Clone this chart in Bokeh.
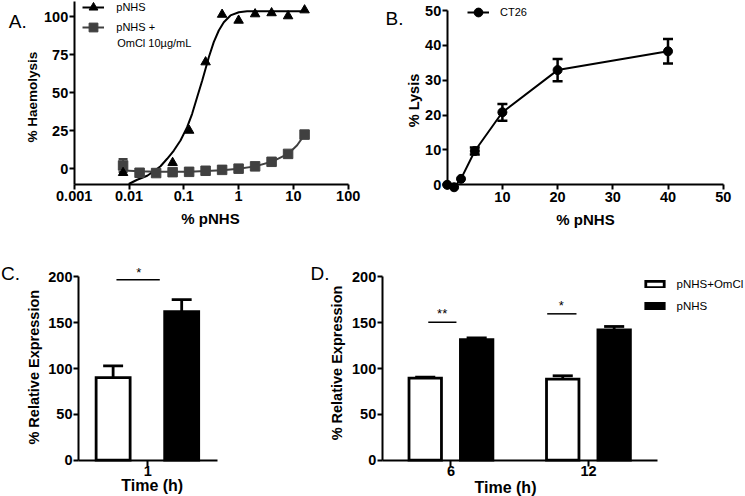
import math
from bokeh.plotting import figure
from bokeh.models import (Range1d, FixedTicker, Legend, LegendItem, Label, Whisker,
                          TeeHead, ColumnDataSource)
from bokeh.layouts import column, row
from bokeh.embed import file_html
from bokeh.resources import INLINE
from bokeh.core.properties import value

# ---------------- data ----------------
# Panel A
A_XTICKS = [0.001, 0.01, 0.1, 1, 10, 100]
A_XTICK_LABELS = ["0.001", "0.01", "0.1", "1", "10", "100"]
A_YTICKS = [0, 25, 50, 75, 100]
A_PNHS_X = [0.0078, 0.0625, 0.125, 0.25, 0.5, 1, 2, 4, 8, 16]
A_PNHS_Y = [-2.6, 4.0, 25.2, 70.2, 101.5, 97.6, 101.8, 102.5, 100.5, 104.4]
A_OMCI_X = [0.0078, 0.0156, 0.03125, 0.0625, 0.125, 0.25, 0.5, 1, 2, 4, 8, 16]
A_OMCI_Y = [2.2, -2.6, -2.8, -2.2, -2.0, -1.3, -0.7, 0.1, 1.6, 4.6, 9.8, 22.5]
A_OMCI_ERR = [4.3, 0, 0, 0, 0, 0, 0, 0, 0, 0, 0, 0]
A_FIT_PNHS_X = [0.0099, 0.0141, 0.0215, 0.0284, 0.0376, 0.0497, 0.0658,
                0.087, 0.115, 0.142, 0.175, 0.217, 0.286, 0.352, 0.435, 0.537,
                0.711, 1.01, 1.43, 16]
A_FIT_PNHS_Y = [-10.0, -7.2, -4.6, -1.6, 1.7, 6.6, 12.0, 18.6, 27.4, 36.2,
                47.1, 58.1, 73.4, 83.3, 91.0, 96.4, 100.9, 103.0, 103.7, 103.7]
A_FIT_OMCI_X = [0.0078, 0.0156, 0.03125, 0.0625, 0.125, 0.25, 0.5, 1, 2, 4, 8, 11.7, 16]
A_FIT_OMCI_Y = [-1.2, -1.6, -1.9, -2.0, -1.9, -1.5, -0.9, 0.1, 1.6, 4.6, 9.8, 15.5, 22.5]

# Panel B
B_XTICKS = [0, 10, 20, 30, 40, 50]
B_XTICK_LABELS = ["", "10", "20", "30", "40", "50"]
B_YTICKS = [0, 10, 20, 30, 40, 50]
B_X = [0, 1.25, 2.5, 5, 10, 20, 40]
B_Y = [0.0, -0.7, 1.7, 9.7, 20.8, 32.9, 38.3]
B_ERR = [0, 0, 0, 1.0, 2.4, 3.2, 3.5]

# Panels C and D
CD_YTICKS = [0, 50, 100, 150, 200]
C_TIMES = ["1"]
C_OMCI = [90.0]
C_OMCI_ERR = [13.0]
C_PNHS = [162.2]
C_PNHS_ERR = [13.1]
C_SIG_Y = [196.8]
C_STAR_Y = [204.8]
C_SIG_TEXT = ["*"]
D_TIMES = ["6", "12"]
D_OMCI = [89.5, 88.4]
D_OMCI_ERR = [1.0, 3.7]
D_PNHS = [131.4, 142.3]
D_PNHS_ERR = [2.1, 3.6]
D_SIG_Y = [150.6, 159.7]
D_STAR_Y = [160.1, 169.1]
D_SIG_TEXT = ["**", "*"]

# ---------------- layout helpers ----------------
FONT = "Liberation Sans"
GRAY = "#404040"


def lin_at(px, p0, v0, p1, v1):
    return v0 + (px - p0) * (v1 - v0) / (p1 - p0)


def make_fig(w, h, ox, oy, x_range, y_range, **kw):
    p = figure(width=w, height=h, output_backend="svg", toolbar_location=None,
               x_range=x_range, y_range=y_range, min_border=0, **kw)
    p.outline_line_color = None
    p.xgrid.visible = False
    p.ygrid.visible = False
    p.background_fill_color = "white"
    p.border_fill_color = "white"
    return p, dict(ox=ox, oy=oy, h=h)


def scr(geo, xr, yr):
    return xr - geo["ox"], geo["oy"] + geo["h"] - yr


def style_axis(ax, tick_out=5, standoff=1, size="14.5px"):
    ax.axis_line_width = 2
    ax.axis_line_color = "black"
    ax.major_tick_line_width = 2
    ax.major_tick_line_color = "black"
    ax.major_tick_out = tick_out
    ax.major_tick_in = 0
    ax.minor_tick_line_color = None
    ax.major_label_text_font = FONT
    ax.major_label_text_font_style = "bold"
    ax.major_label_text_font_size = size
    ax.major_label_text_color = "black"
    ax.major_label_standoff = standoff
    ax.axis_label = None


def add_text(p, geo, text, xr, yr, size, bold=True, angle=0.0, align="center",
             baseline="middle"):
    sx_, sy_ = scr(geo, xr, yr)
    p.add_layout(Label(x=sx_, y=sy_, x_units="screen", y_units="screen", text=text,
                       angle=angle, text_font=FONT, text_font_size=f"{size}px",
                       text_font_style="bold" if bold else "normal",
                       text_align=align, text_baseline=baseline, text_color="black"))


def legend_loc(geo, x_ref, yc_ref, n, item_h, spacing):
    top = yc_ref - geo["oy"] - item_h / 2
    bottom = top + n * item_h + (n - 1) * spacing
    return (x_ref - geo["ox"], geo["h"] - bottom)


def make_legend(items, loc, glyph_w, glyph_h, label_h, spacing, standoff, size):
    return Legend(items=items, location=loc, glyph_width=glyph_w, glyph_height=glyph_h,
                  label_height=label_h, spacing=spacing, label_standoff=standoff,
                  padding=0, margin=0, border_line_color=None, background_fill_alpha=0,
                  label_text_font=FONT, label_text_font_size=size,
                  label_text_color="black")


# ---------------- Panel A ----------------
A_W, A_H, A_OX, A_OY = 370, 250, 0, 0
ax_lo = lin_at(A_OX, 73.7, -3, 347.7, 2)
ax_hi = lin_at(A_OX + A_W, 73.7, -3, 347.7, 2)
ay_lo = lin_at(A_OY + A_H, 168.3, 0, 16.3, 100)
ay_hi = lin_at(A_OY, 168.3, 0, 16.3, 100)
pA, gA = make_fig(A_W, A_H, A_OX, A_OY, Range1d(10 ** ax_lo, 10 ** ax_hi),
                  Range1d(ay_lo, ay_hi), x_axis_type="log")
for ax in pA.axis:
    style_axis(ax)
pA.xaxis.fixed_location = -10
pA.xaxis.bounds = (0.001, 100)
pA.yaxis.fixed_location = 0.001
pA.yaxis.bounds = (-10, 110)
pA.xaxis.ticker = FixedTicker(ticks=A_XTICKS)
pA.xaxis.major_label_overrides = {float(t): lab for t, lab in zip(A_XTICKS, A_XTICK_LABELS)}
pA.xaxis.major_label_standoff = 2
pA.yaxis.ticker = FixedTicker(ticks=A_YTICKS)

errA = [(x, y, e) for x, y, e in zip(A_OMCI_X, A_OMCI_Y, A_OMCI_ERR) if e > 0]
srcAe = ColumnDataSource(dict(x=[r[0] for r in errA],
                              lo=[r[1] - r[2] for r in errA],
                              hi=[r[1] + r[2] for r in errA]))
pA.add_layout(Whisker(source=srcAe, base="x", lower="lo", upper="hi", dimension="height",
                      line_color=GRAY, line_width=2,
                      upper_head=TeeHead(size=9, line_color=GRAY, line_width=2),
                      lower_head=TeeHead(size=9, line_color=GRAY, line_width=2)))
lnA2 = pA.line(A_FIT_OMCI_X, A_FIT_OMCI_Y, line_color=GRAY, line_width=2)
lnA1 = pA.line(A_FIT_PNHS_X, A_FIT_PNHS_Y, line_color="black", line_width=2)
scA2 = pA.scatter(A_OMCI_X, A_OMCI_Y, marker="square", size=9.5, fill_color=GRAY,
                  line_color=GRAY)
scA1 = pA.scatter(A_PNHS_X, A_PNHS_Y, marker="triangle", size=9.5, fill_color="black",
                  line_color="black")
pA.add_layout(make_legend([LegendItem(label="pNHS", renderers=[lnA1, scA1])],
                          legend_loc(gA, 82.3, 7.2, 1, 22, 0), 22, 22, 14, 0, 12, "11px"))
pA.add_layout(make_legend([LegendItem(label="pNHS +", renderers=[lnA2, scA2])],
                          legend_loc(gA, 82.3, 26.5, 1, 22, 0), 22, 22, 14, 0, 12, "11px"))
add_text(pA, gA, "OmCl 10\u00b5g/mL", 116.7, 42.5, 11, bold=False, align="left")
add_text(pA, gA, "% Haemolysis", 32, 96.7, 13.5, angle=math.pi / 2)
add_text(pA, gA, "% pNHS", 210, 218, 15)
add_text(pA, gA, "A.", 8.3, 20.7, 19, bold=False, align="left", baseline="alphabetic")

# ---------------- Panel B ----------------
B_W, B_H, B_OX, B_OY = 375, 250, 370, 0
pB, gB = make_fig(B_W, B_H, B_OX, B_OY,
                  Range1d(lin_at(B_OX, 446.7, 0, 722.7, 50),
                          lin_at(B_OX + B_W, 446.7, 0, 722.7, 50)),
                  Range1d(lin_at(B_OY + B_H, 184.3, 0, 10, 50),
                          lin_at(B_OY, 184.3, 0, 10, 50)))
for ax in pB.axis:
    style_axis(ax)
pB.xaxis.fixed_location = 0
pB.xaxis.bounds = (0, 50)
pB.yaxis.fixed_location = 0
pB.yaxis.bounds = (0, 50)
pB.xaxis.ticker = FixedTicker(ticks=B_XTICKS)
pB.xaxis.major_label_overrides = {t: lab for t, lab in zip(B_XTICKS, B_XTICK_LABELS)}
pB.xaxis.major_label_standoff = 2
pB.yaxis.ticker = FixedTicker(ticks=B_YTICKS)
errB = [(x, y, e) for x, y, e in zip(B_X, B_Y, B_ERR) if e > 0]
srcBe = ColumnDataSource(dict(x=[r[0] for r in errB],
                              lo=[r[1] - r[2] for r in errB],
                              hi=[r[1] + r[2] for r in errB]))
pB.add_layout(Whisker(source=srcBe, base="x", lower="lo", upper="hi", dimension="height",
                      line_color="black", line_width=2.5,
                      upper_head=TeeHead(size=10, line_color="black", line_width=2.5),
                      lower_head=TeeHead(size=10, line_color="black", line_width=2.5)))
lnB = pB.line(B_X, B_Y, line_color="black", line_width=2)
scB = pB.scatter(B_X, B_Y, marker="circle", size=9, fill_color="black", line_color="black")
pB.add_layout(make_legend([LegendItem(label="CT26", renderers=[lnB, scB])],
                          legend_loc(gB, 467, 12.3, 1, 22, 0), 22, 22, 14, 0, 11, "11px"))
add_text(pB, gB, "% Lysis", 413.3, 100, 14.5, angle=math.pi / 2)
add_text(pB, gB, "% pNHS", 585, 219.3, 15)
add_text(pB, gB, "B.", 385, 18.3, 19, bold=False, align="left", baseline="alphabetic")

# ---------------- bars helpers ----------------


def draw_bars(p, cats, vals, errs, off, width, cap_half, fill):
    xs = [i + off for i in range(len(cats))]
    r = p.vbar(x=xs, top=vals, bottom=0, width=width, fill_color=fill,
               line_color="black", line_width=2.8, line_join="miter")
    tops = [v + e for v, e in zip(vals, errs)]
    p.segment(x0=xs, y0=vals, x1=xs, y1=tops, line_color="black", line_width=2.8)
    p.segment(x0=[x - cap_half for x in xs], y0=tops, x1=[x + cap_half for x in xs],
              y1=tops, line_color="black", line_width=2.8)
    return r


def draw_sig(p, spans, levels, star_offs, star_ys, texts):
    p.segment(x0=[i + s[0] for i, s in enumerate(spans)], y0=levels,
              x1=[i + s[1] for i, s in enumerate(spans)], y1=levels,
              line_color="black", line_width=1.5)
    p.text(x=[i + o for i, o in enumerate(star_offs)], y=star_ys, text=texts,
           text_font=value(FONT), text_font_size="13px", text_align="center",
           text_baseline="middle", text_color="black")


def cat_axes(p, cats):
    for ax in p.axis:
        style_axis(ax)
    p.xaxis.ticker = FixedTicker(ticks=list(range(len(cats))))
    p.xaxis.major_label_overrides = {i: c for i, c in enumerate(cats)}
    p.xaxis.major_tick_out = 6
    p.xaxis.major_label_standoff = 0
    p.xaxis.fixed_location = 0
    p.xaxis.bounds = (-0.5, len(cats) - 0.5)
    p.yaxis.fixed_location = -0.5
    p.yaxis.ticker = FixedTicker(ticks=CD_YTICKS)
    p.yaxis.bounds = (0, 200)


# ---------------- Panel C ----------------
C_W, C_H, C_OX, C_OY = 295, 246, 0, 250
pC, gC = make_fig(C_W, C_H, C_OX, C_OY,
                  Range1d(lin_at(C_OX, 78, -0.5, 216.5, 0.5),
                          lin_at(C_OX + C_W, 78, -0.5, 216.5, 0.5)),
                  Range1d(lin_at(C_OY + C_H, 459.7, 0, 276.4, 200),
                          lin_at(C_OY, 459.7, 0, 276.4, 200)))
cat_axes(pC, C_TIMES)
draw_bars(pC, C_TIMES, C_OMCI, C_OMCI_ERR, -0.25, 0.2455, 0.072, "white")
draw_bars(pC, C_TIMES, C_PNHS, C_PNHS_ERR, 0.245, 0.2455, 0.072, "black")
draw_sig(pC, [(-0.226, 0.087)], C_SIG_Y, [-0.065], C_STAR_Y, C_SIG_TEXT)
add_text(pC, gC, "% Relative Expression", 33, 366.7, 14.5, angle=math.pi / 2)
add_text(pC, gC, "Time (h)", 151.7, 485, 16)
add_text(pC, gC, "C.", 0.5, 273.3, 19, bold=False, align="left", baseline="alphabetic")

# ---------------- Panel D ----------------
D_W, D_H, D_OX, D_OY = 450, 246, 295, 250
pD, gD = make_fig(D_W, D_H, D_OX, D_OY,
                  Range1d(lin_at(D_OX, 381.7, -0.5, 656.7, 1.5),
                          lin_at(D_OX + D_W, 381.7, -0.5, 656.7, 1.5)),
                  Range1d(lin_at(D_OY + D_H, 459.7, 0, 276.4, 200),
                          lin_at(D_OY, 459.7, 0, 276.4, 200)))
cat_axes(pD, D_TIMES)
rD1 = draw_bars(pD, D_TIMES, D_OMCI, D_OMCI_ERR, -0.187, 0.236, 0.073, "white")
rD2 = draw_bars(pD, D_TIMES, D_PNHS, D_PNHS_ERR, 0.187, 0.236, 0.073, "black")
draw_sig(pD, [(-0.165, 0.040), (-0.30, -0.087)], D_SIG_Y, [-0.064, -0.198],
         D_STAR_Y, D_SIG_TEXT)
legD = make_legend([LegendItem(label="pNHS+OmCl", renderers=[rD1]),
                    LegendItem(label="pNHS", renderers=[rD2])],
                   legend_loc(gD, 642.5, 283.5, 2, 14, 8), 23, 8, 14, 8, 11, "11.5px")
pD.add_layout(legD)
add_text(pD, gD, "% Relative Expression", 336.7, 362.5, 14.5, angle=math.pi / 2)
add_text(pD, gD, "Time (h)", 505, 486.7, 16)
add_text(pD, gD, "D.", 310, 273, 19, bold=False, align="left", baseline="alphabetic")

layout = column(row(pA, pB), row(pC, pD))
open("out.html", "w").write(file_html(layout, INLINE))
